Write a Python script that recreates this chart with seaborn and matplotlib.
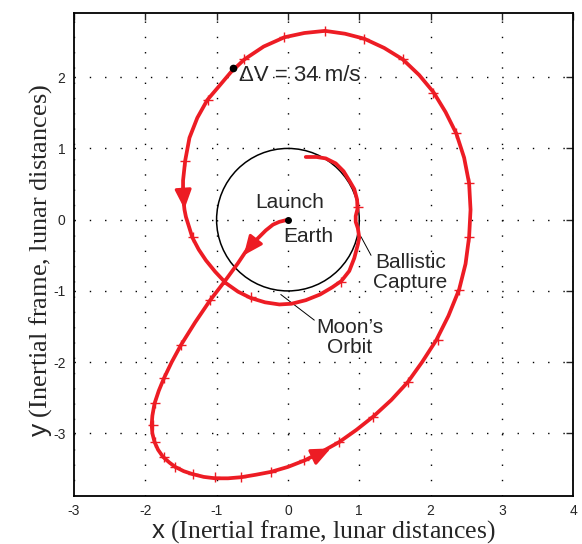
import seaborn as sns
import matplotlib.pyplot as plt
from matplotlib.patches import Circle
import pandas as pd

# trajectory (x, y in lunar distances), launch -> capture
traj_x = [0.00, -0.12, -0.21, -0.31, -0.40, -0.49, -0.56, -0.70, -0.89, -1.09, -1.30, -1.50,
          -1.63, -1.74, -1.81, -1.87, -1.90, -1.91, -1.90, -1.87, -1.82, -1.75, -1.66, -1.58,
          -1.46, -1.34, -1.18, -1.02, -0.84, -0.66, -0.45, -0.24, 0.00, 0.23, 0.47, 0.72,
          0.96, 1.20, 1.45, 1.68, 1.88, 2.08, 2.25, 2.40, 2.49, 2.54, 2.56, 2.54, 2.47, 2.36,
          2.21, 2.04, 1.84, 1.61, 1.35, 1.07, 0.80, 0.52, 0.23, -0.05, -0.34, -0.61, -0.80,
          -0.96, -1.13, -1.27, -1.38, -1.44, -1.47, -1.47, -1.45, -1.43, -1.38, -1.34, -1.25,
          -1.15, -1.02, -0.87, -0.70, -0.52, -0.32, -0.12, 0.05, 0.25, 0.45, 0.62, 0.75, 0.86,
          0.93, 0.98, 1.00, 0.98, 0.95, 0.95, 0.975, 0.97, 0.93, 0.86, 0.78, 0.67, 0.53, 0.40,
          0.25]
traj_y = [0.00, -0.03, -0.07, -0.15, -0.24, -0.33, -0.40, -0.61, -0.87, -1.13, -1.44, -1.76,
          -2.00, -2.23, -2.40, -2.58, -2.75, -2.88, -3.00, -3.12, -3.23, -3.33, -3.41, -3.47,
          -3.53, -3.57, -3.61, -3.63, -3.63, -3.615, -3.58, -3.54, -3.47, -3.38, -3.26, -3.12,
          -2.95, -2.76, -2.53, -2.28, -2.00, -1.69, -1.35, -0.98, -0.62, -0.24, 0.14, 0.51, 0.87,
          1.21, 1.51, 1.79, 2.03, 2.25, 2.41, 2.54, 2.61, 2.65, 2.62, 2.56, 2.43, 2.25, 2.07,
          1.88, 1.68, 1.43, 1.15, 0.83, 0.55, 0.32, 0.14, 0.04, -0.12, -0.25, -0.42, -0.57,
          -0.73, -0.89, -1.01, -1.10, -1.16, -1.19, -1.18, -1.13, -1.05, -0.95, -0.86, -0.72,
          -0.54, -0.35, -0.25, -0.12, -0.03, 0.05, 0.15, 0.28, 0.43, 0.55, 0.68, 0.79, 0.86,
          0.88, 0.88]

# time tick marks along the path
tick_x = [0.525, -0.05, -0.612, -1.126, -1.439, 1.071, 1.609, 2.039, 2.358, 2.544, 2.544,
          2.404, 2.100, 1.679, 1.198, 0.711, 0.230, -0.237, -0.658, -1.022, -1.337, -1.579,
          -1.733, -1.860, -1.898, -1.860, -1.733, -1.499, -1.088, -1.337, -0.518, 0.745, 0.978]
tick_y = [2.654, 2.562, 2.253, 1.681, 0.829, 2.534, 2.253, 1.784, 1.213, 0.511, -0.239,
          -0.983, -1.690, -2.275, -2.767, -3.118, -3.375, -3.539, -3.610, -3.618, -3.572,
          -3.478, -3.337, -3.118, -2.883, -2.579, -2.228, -1.760, -1.128, -0.247, -1.090,
          -0.871, 0.183]

# direction arrows: (tail, tip)
arrows = [((-0.45, -0.28), (-0.62, -0.50)),
          ((-1.47, 0.45), (-1.45, 0.15)),
          ((0.35, -3.33), (0.60, -3.21))]

moon_orbit_radius = 1.0
earth = (0.0, 0.0)
dv_point = (-0.765, 2.126)

RED = "#ED1C24"

sns.set_style("white")
plt.rcParams["font.family"] = ["Liberation Sans", "DejaVu Sans"]
plt.rcParams["axes.unicode_minus"] = False
plt.rcParams["mathtext.fontset"] = "custom"
plt.rcParams["mathtext.sf"] = "Liberation Sans"

fig = plt.figure(figsize=(5.82, 5.44), dpi=100)
ax = fig.add_axes([0.127, 0.088, 0.858, 0.888])

df = pd.DataFrame({"x": traj_x, "y": traj_y})
sns.lineplot(data=df, x="x", y="y", sort=False, estimator=None, color=RED,
             linewidth=2.7, ax=ax, zorder=4)
sns.scatterplot(x=tick_x, y=tick_y, marker="+", s=55, color=RED, linewidth=1.0,
                ax=ax, zorder=5)

for tail, tip in arrows:
    ax.annotate("", xy=tip, xytext=tail,
                arrowprops=dict(arrowstyle="-|>,head_length=1.15,head_width=0.5",
                                color=RED, lw=2.2, shrinkA=0, shrinkB=0),
                zorder=6)

ax.add_patch(Circle((0, 0), moon_orbit_radius, fill=False, color="black", lw=1.1, zorder=3))
ax.plot(*earth, "o", color="black", ms=4, zorder=7)
ax.plot(*dv_point, "o", color="black", ms=4.5, zorder=7)

fs = 15
ax.text(-0.69, 2.03, "\u0394V = 34 m/s", fontsize=16, va="center", ha="left")
ax.text(0.02, 0.24, "Launch", fontsize=fs, ha="center", va="center")
ax.text(0.28, -0.23, "Earth", fontsize=fs, ha="center", va="center")
ax.text(1.72, -0.74, "Ballistic\nCapture", fontsize=fs, ha="center", va="center",
        linespacing=1.05)
ax.text(0.87, -1.65, "Moon\u2019s\nOrbit", fontsize=fs, ha="center", va="center",
        linespacing=1.05)
ax.plot([1.025, 1.165], [-0.24, -0.50], color="black", lw=0.7)
ax.plot([-0.10, 0.37], [-1.05, -1.41], color="black", lw=0.7)

ax.set_xlim(-3, 4)
ax.set_ylim(-3.88, 2.9)
ax.set_xticks(range(-3, 5))
ax.set_yticks(range(-3, 3))
ax.grid(True, color="black", linestyle=(0, (1, 10)), linewidth=1.0)
ax.tick_params(direction="in", length=5, width=1.0, top=True, right=True,
               labelsize=10, pad=6)
for s in ax.spines.values():
    s.set_linewidth(1.3)
    s.set_color("black")

ax.set_xlabel(r"$\mathsf{x}$ (Inertial frame, lunar distances)", family="Liberation Serif",
              fontsize=18.5, labelpad=0)
ax.set_ylabel(r"$\mathsf{y}$ (Inertial frame, lunar distances)", family="Liberation Serif",
              fontsize=19)
ax.yaxis.set_label_coords(-0.04, 0.487)

fig.savefig("out.png", dpi=100)
